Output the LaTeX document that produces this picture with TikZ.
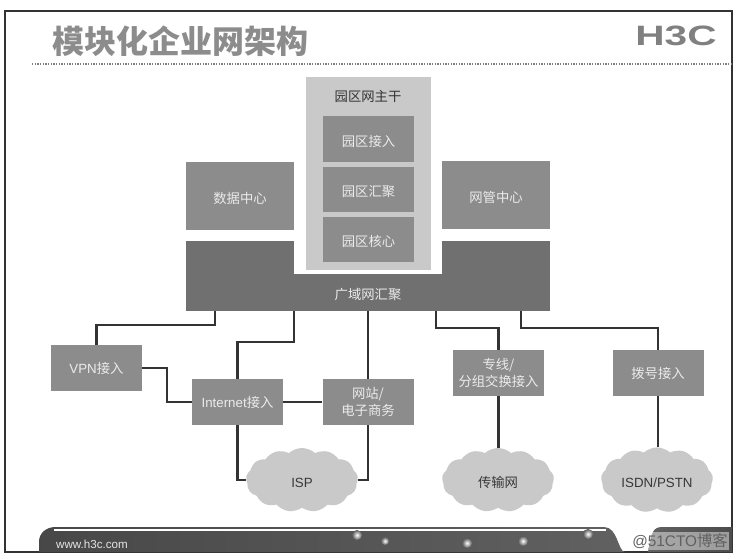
\documentclass[tikz,border=0pt]{standalone}
\usepackage{fontspec}
\setmainfont{Liberation Sans}
\newfontfamily\cjk{Noto Sans CJK SC}
\usetikzlibrary{shapes.symbols}
\definecolor{boxgray}{gray}{0.55}
\definecolor{bargray}{gray}{0.44}
\definecolor{palegray}{gray}{0.79}
\definecolor{linegray}{gray}{0.2}
\tikzset{
    low text/.style={text height=10.6pt,text depth=0pt},
    boxnode/.style={fill=boxgray,text=white!92!black,inner sep=0pt,align=center,font=\fontsize{10}{13}\selectfont},
    access/.style={boxnode,minimum width=68.25pt,minimum height=34.5pt},
    center box/.style={boxnode,low text,minimum width=81pt,minimum height=51pt,font=\fontsize{10}{13}\selectfont\cjk},
    campus/.style={boxnode,low text,minimum width=68.25pt,minimum height=34pt,font=\fontsize{10}{13}\selectfont\cjk},
    barpart/.style={fill=bargray,inner sep=0pt,text=white!92!black,font=\fontsize{10}{13}\selectfont\cjk},
    netcloud/.style={cloud,cloud puffs=13,cloud puff arc=85,aspect=1.75,fill=palegray,inner sep=0pt,
        minimum width=84pt,minimum height=48pt,text height=11.6pt,text depth=0pt,text=black!78,font=\fontsize{10}{13}\selectfont},
    wire/.style={draw=linegray,line width=1.7pt},
    spark/.style={inner color=white,outer color=black!64}
}
\begin{document}
\begin{tikzpicture}[x=0.75pt,y=-0.75pt]
    \useasboundingbox (0,0) rectangle (739,559);
    \fill[white] (0,0) rectangle (739,559);
    \draw[black!80,line width=0.8pt] (5,11) rectangle (732,552);

    \node[inner sep=0pt,text=black!45,font=\fontsize{24}{28}\selectfont\cjk\bfseries] (title) at (180,41) {模块化企业网架构};
    \node[inner sep=0pt,text=black!50,font=\fontsize{21}{24}\selectfont\bfseries,xscale=1.45] (logo) at (676,36) {H3C};
    \draw[black!50,line width=1pt,densely dotted] (32,64) -- (733,64);

    \node[fill=palegray,minimum width=93.75pt,minimum height=144.75pt,inner sep=0pt] (backbone) at (368.5,173.5) {};
    \node[text=black!80,inner sep=0pt,font=\fontsize{10}{13}\selectfont\cjk] (backbonetitle) at (368,96) {园区网主干};
    \node[campus] (campusaccess) at (368.5,139) {园区接入};
    \node[campus] (campusdist) at (368.5,189.5) {园区汇聚};
    \node[campus] (campuscore) at (368.5,239.5) {园区核心};

    \node[center box] (datacenter) at (240,196) {数据中心};
    \node[center box] (netmgmt) at (496,195) {网管中心};

    \node[barpart,low text,minimum width=273pt,minimum height=27.75pt] (wan) at (368,292.5) {广域网汇聚};
    \node[barpart,minimum width=81pt,minimum height=25pt] (wanleft) at (240,258) {};
    \node[barpart,minimum width=81pt,minimum height=25pt] (wanright) at (496,258) {};

    \node[access] (vpn) at (96.5,368) {VPN{\cjk 接入}};
    \node[access] (internet) at (237.5,402) {Internet{\cjk 接入}};
    \node[access,font=\fontsize{10}{13}\selectfont\cjk] (site) at (368,402) {网站/\\电子商务};
    \node[access,font=\fontsize{10}{13}\selectfont\cjk] (leased) at (498.5,373) {专线/\\分组交换接入};
    \node[access,font=\fontsize{10}{13}\selectfont\cjk] (dialup) at (658,373) {拨号接入};

    \node[netcloud] (isp) at (302,480) {ISP};
    \node[netcloud,font=\fontsize{10}{13}\selectfont\cjk] (transport) at (498,480) {传输网};
    \node[netcloud] (pstn) at (657,480) {ISDN/PSTN};

    \coordinate (wanvpn) at (215,311);
    \coordinate (waninternet) at (294,311);
    \coordinate (wanleased) at (436,311);
    \coordinate (wandialup) at (521,311);

    \draw[wire] (wanvpn) -- (215,325) -- (96.5,325) -- (vpn.north);
    \draw[wire] (waninternet) -- (294,342) -- (237.5,342) -- (internet.north);
    \draw[wire] (site.north) -- (site.north |- wan.south);
    \draw[wire] (wanleased) -- (436,328) -- (498.5,328) -- (leased.north);
    \draw[wire] (wandialup) -- (521,328) -- (658,328) -- (dialup.north);
    \draw[wire] (vpn.east) -- (167,368) -- (167,402) -- (internet.west);
    \draw[wire] (internet.east) -- (site.west);
    \draw[wire] (internet.south) |- (isp.west);
    \draw[wire] (site.south) |- (isp.east);
    \draw[wire] (leased.south) -- (transport.north -| leased.south);
    \draw[wire] (dialup.south) -- (pstn.north -| dialup.south);

    \shade[left color=black!72,right color=black!62] (39,552) -- (39,542) .. controls (39,533) and (46,527) .. (56,527)
        -- (604,527) .. controls (618,527) and (618,552) .. (625,552) -- cycle;
    \shade[left color=black!62,right color=black!70] (648,552) .. controls (651,535) and (652,527) .. (662,527)
        -- (732,527) -- (732,552) -- cycle;
    \draw[white,line width=0.8pt] (54,530) -- (606,530);
    \shade[spark] (357,535) circle (5);
    \shade[spark] (385,541) circle (4);
    \shade[spark] (467,543) circle (5);
    \shade[spark] (523,541) circle (5);
    \shade[spark] (588,534) circle (5);
    \node[inner sep=0pt,text=white!90!black,font=\fontsize{8.7}{10}\selectfont] (web) at (92,544) {www.h3c.com};
    \node[inner sep=1pt,fill=white,fill opacity=0.45,text opacity=1,text=black!62,font=\fontsize{11.5}{13}\selectfont] (mark) at (680,541) {@51CTO{\cjk 博客}};
\end{tikzpicture}
\end{document}
